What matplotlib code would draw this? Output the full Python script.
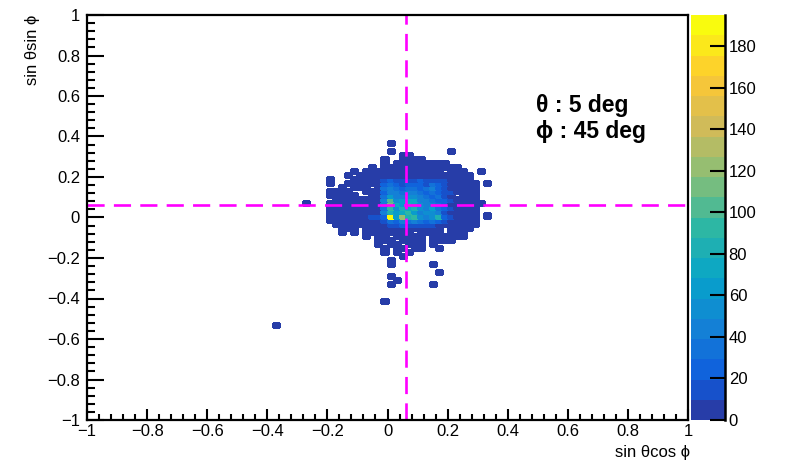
import numpy as np
import matplotlib
matplotlib.use("Agg")
import matplotlib.pyplot as plt
from matplotlib.colors import LinearSegmentedColormap, ListedColormap, BoundaryNorm
from matplotlib.ticker import MultipleLocator, FuncFormatter

plt.rcParams['font.family'] = ['Liberation Sans', 'DejaVu Sans']

# generator direction (deg)
THETA_DEG = 5
PHI_DEG = 45

# 2D histogram binning: 100 x 100 bins on [-1, 1] x [-1, 1]
N_BINS = 100
X_MIN, X_MAX = -1.0, 1.0
Y_MIN, Y_MAX = -1.0, 1.0
Z_MAX = 195

# bin contents, coded one char per bin
LEVELS = {'.': 0, '1': 3, '2': 7, 'b': 15, 'c': 25, 'd': 35, 'e': 45,
          'f': 55, 'g': 65, 'h': 75, 'i': 85, 'j': 95, 'k': 105,
          'l': 115, 'm': 125, 'n': 135, 'y': 195}

FIRST_COL = 34   # x bin index of first char
TOP_ROW = 68     # y bin index of first string
ROWS = [
    "................1.................",  # 68
    "..................................",  # 67
    "................1.........1.......",  # 66
    "..................11..............",  # 65
    "...............1..1111............",  # 64
    "...............1.111111111........",  # 63
    ".............1.1111111111111......",  # 62
    "..........1.1111111111111.111..1..",  # 61
    ".........1.1111111111111111111....",  # 60
    "......1...11111" + "bcbbbbcbbbb1" + "111....",  # 59
    "......1..111111" + "cdcbcccbdcb2" + "1111.1.",  # 58
    "........1.111.1" + "dedcddcdecb1" + "1111...",  # 57
    "......1111..111" + "ceedeedcdcbb" + "1111...",  # 56
    "......11111..11" + "dgeeffedcdb1" + ".111...",  # 55
    ".......11111111" + "ekfghheedccb" + "1111...",  # 54
    "..1...111111111" + "elhgihfeedc1" + "11111..",  # 53
    "......111111111" + "djfihifegdcb" + "1111...",  # 52
    "......111111111" + "eighjgeffeb1" + "1111...",  # 51
    "......1111111bb" + "cygmijfeficb" + "1111.1.",  # 50
    "......111111111" + "bdcededcdcb1" + "1111...",  # 49
    ".......11111111" + "2bbcbbbbb211" + "1111...",  # 48
    "........111.1111111111111.1111....",  # 47
    "........1.1.11111111.1111.111.....",  # 46
    "............1.11.11111.111111.....",  # 45
    "..............111.1111.1111.......",  # 44
    "..............1.11.111.1..........",  # 43
    "...............1.11.11..1.........",  # 42
    "...............1.1.1..............",  # 41
    "..................1...............",  # 40
    "................1.................",  # 39
    "................1......1..........",  # 38
    "..................................",  # 37
    "........................1.........",  # 36
    "................1.................",  # 35
    ".................1................",  # 34
    "................1......1..........",  # 33
    "..................................",  # 32
    "..................................",  # 31
    "..................................",  # 30
    "...............1..................",  # 29
]
# isolated far bins (x bin, y bin, content)
EXTRA_I = [31]
EXTRA_J = [23]
EXTRA_N = [3]

# ROOT kBird palette
BIRD_STOPS = [0.0, 0.125, 0.25, 0.375, 0.5, 0.625, 0.75, 0.875, 1.0]
BIRD_R = [0.2082, 0.0592, 0.0780, 0.0232, 0.1802, 0.5301, 0.8186, 0.9956, 0.9764]
BIRD_G = [0.1664, 0.3599, 0.5041, 0.6419, 0.7178, 0.7492, 0.7328, 0.7862, 0.9832]
BIRD_B = [0.5293, 0.8684, 0.8385, 0.7914, 0.6425, 0.4662, 0.3499, 0.1968, 0.0539]
N_CONTOURS = 20

# --- fill histogram ---
H = np.zeros((N_BINS, N_BINS))
for r, row in enumerate(ROWS):
    j = TOP_ROW - r
    for c, ch in enumerate(row):
        H[j, FIRST_COL + c] = LEVELS[ch]
for i, j, n in zip(EXTRA_I, EXTRA_J, EXTRA_N):
    H[j, i] = n
Hm = np.ma.masked_equal(H, 0)

xedges = np.linspace(X_MIN, X_MAX, N_BINS + 1)
yedges = np.linspace(Y_MIN, Y_MAX, N_BINS + 1)

bird = LinearSegmentedColormap.from_list(
    "bird", list(zip(BIRD_STOPS, zip(BIRD_R, BIRD_G, BIRD_B))))
band_colors = [bird(min((k + 0.99) / N_CONTOURS, 1.0)) for k in range(N_CONTOURS)]
cmap = ListedColormap(band_colors)
norm = BoundaryNorm(np.linspace(0, Z_MAX, N_CONTOURS + 1), cmap.N)

W, Hpx = 785, 466
fig = plt.figure(figsize=(W / 100, Hpx / 100), dpi=100)
L, R, T, B = 87, 688, 15, 420
ax = fig.add_axes([L / W, 1 - B / Hpx, (R - L) / W, (B - T) / Hpx])
cax = fig.add_axes([691 / W, 1 - B / Hpx, 33.5 / W, (B - T) / Hpx])

# the picture is a bit soft, so let each cell bleed ~1px into its neighbours
mesh = ax.pcolormesh(xedges, yedges, Hm, cmap=cmap, norm=norm,
                     edgecolors='face', linewidth=0.8)
mesh.set_joinstyle('miter')

# cursor lines at the generated direction
x0 = np.sin(np.radians(THETA_DEG)) * np.cos(np.radians(PHI_DEG))
y0 = np.sin(np.radians(THETA_DEG)) * np.sin(np.radians(PHI_DEG))
ax.plot([X_MIN, X_MAX], [y0, y0], color='#ff00ff', lw=1.9, dashes=(6.5, 3.5))
ax.plot([x0, x0], [Y_MIN, Y_MAX], color='#ff00ff', lw=1.9, dashes=(6.5, 3.5))

ax.set_xlim(X_MIN, X_MAX)
ax.set_ylim(Y_MIN, Y_MAX)

fmt = FuncFormatter(lambda v, p: f"{round(v, 2):g}".replace('-', '\u2212'))
ax.xaxis.set_major_locator(MultipleLocator(0.2))
ax.xaxis.set_minor_locator(MultipleLocator(0.04))
ax.yaxis.set_major_locator(MultipleLocator(0.2))
ax.yaxis.set_minor_locator(MultipleLocator(0.04))
ax.xaxis.set_major_formatter(fmt)
ax.yaxis.set_major_formatter(fmt)
ax.tick_params(axis='x', which='major', direction='in', length=8, width=1.5,
               labelsize=12, pad=3)
ax.tick_params(axis='x', which='minor', direction='in', length=4, width=1.5)
ax.tick_params(axis='y', which='major', direction='in', length=12, width=1.5,
               labelsize=12, pad=5)
ax.tick_params(axis='y', which='minor', direction='in', length=6, width=1.5)
for s in ax.spines.values():
    s.set_linewidth(1.6)

ax.text(0.495, 0.551, f"\u03b8 : {THETA_DEG} deg", fontsize=16.5, fontweight='bold',
        va='center', ha='left')
ax.text(0.495, 0.427, f"\u03d5 : {PHI_DEG} deg", fontsize=16.5, fontweight='bold',
        va='center', ha='left')

fig.text(R / W + 0.002, 1 - 452 / Hpx, "sin \u03b8cos \u03d5", fontsize=12,
         ha='right', va='center')
fig.text(33 / W, 1 - T / Hpx, "sin \u03b8sin \u03d5", fontsize=12,
         rotation=90, ha='center', va='top')

cb = fig.colorbar(mesh, cax=cax, ticks=np.arange(0, 181, 20))
cb.outline.set_visible(False)
cax.plot([1, 1], [0, 1], transform=cax.transAxes, color='k', lw=1.8,
         clip_on=False)
cax.tick_params(axis='y', which='major', direction='in', length=11, width=1.5,
                labelsize=12, pad=3)
cax.minorticks_off()

fig.savefig("out.png", dpi=100)
